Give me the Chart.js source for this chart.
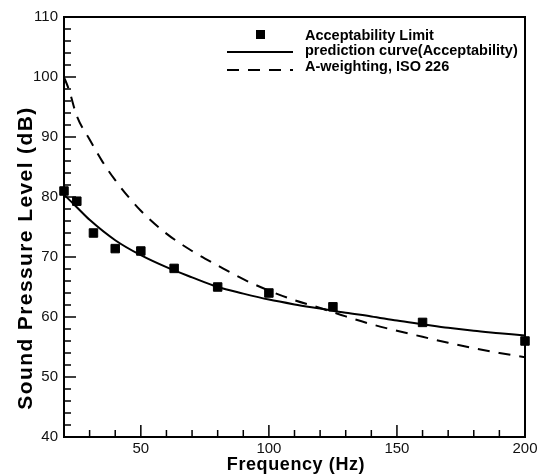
<!DOCTYPE html>
<html>
<head>
<meta charset="utf-8">
<script src="https://cdn.jsdelivr.net/npm/chart.js@4.4.0/dist/chart.umd.min.js"></script>
<style>
  body { margin: 0; background: #fff; }
  canvas { display: block; }
</style>
</head>
<body>
<canvas id="splChart" width="544" height="475"></canvas>
<script>
// measured acceptability limit (squares)
const limitFreq = [20, 25, 31.5, 40, 50, 63, 80, 100, 125, 160, 200];
const limitLevel = [81, 79.3, 74, 71.4, 71, 68.1, 65, 64, 61.7, 59.1, 56];

// prediction curve (solid)
const predFreq = [20, 25, 30, 40, 50, 60, 70, 80, 90, 100, 110, 120, 130, 140, 150, 160, 170, 180, 190, 200];
const predLevel = [80.4, 78.3, 76.2, 72.8, 70.3, 68.3, 66.6, 65.0, 63.9, 62.9, 62.1, 61.4, 60.7, 60.1, 59.4, 58.8, 58.2, 57.7, 57.3, 56.9];

// A-weighting, ISO 226 (dashed)
const aFreq = [20, 22, 25, 30, 35, 40, 45, 50, 60, 70, 80, 90, 100, 110, 120, 130, 140, 150, 160, 170, 180, 190, 200];
const aLevel = [100, 97.8, 93.5, 89.6, 85.9, 82.8, 80.1, 77.7, 73.9, 71.0, 68.6, 66.3, 64.4, 62.8, 61.5, 60.1, 58.8, 57.7, 56.7, 55.7, 54.8, 54.0, 53.3];

const xTicks = [50, 100, 150, 200];
const legendLabels = ['Acceptability Limit', 'prediction curve(Acceptability)', 'A-weighting, ISO 226'];
const xTitle = 'Frequency (Hz)';
const yTitle = 'Sound Pressure Level (dB)';

const FONT = '"Liberation Sans", Arial, sans-serif';
const dashPattern = [12, 9];

function toPoints(xs, ys) {
  return xs.map((x, i) => ({ x: x, y: ys[i] }));
}

// inward ticks, frame, axis titles and legend
const framePlugin = {
  id: 'frame',
  afterDraw(chart) {
    const ctx = chart.ctx;
    const area = chart.chartArea;
    const xs = chart.scales.x;
    const ys = chart.scales.y;
    ctx.save();
    ctx.strokeStyle = '#000';
    ctx.lineWidth = 1.5;
    ctx.beginPath();
    for (let v = 30; v <= 200; v += 10) {
      const px = xs.getPixelForValue(v);
      const len = v % 50 === 0 ? 12 : 7;
      ctx.moveTo(px, area.bottom);
      ctx.lineTo(px, area.bottom - len);
    }
    for (let v = 42; v < 110; v += 2) {
      const py = ys.getPixelForValue(v);
      const len = v % 10 === 0 ? 12 : 7;
      ctx.moveTo(area.left, py);
      ctx.lineTo(area.left + len, py);
    }
    ctx.stroke();

    ctx.lineWidth = 2;
    ctx.strokeRect(area.left, area.top, area.right - area.left, area.bottom - area.top);

    // axis titles
    ctx.fillStyle = '#000';
    ctx.textAlign = 'center';
    ctx.textBaseline = 'alphabetic';
    ctx.font = 'bold 18px ' + FONT;
    ctx.letterSpacing = '0.6px';
    ctx.fillText(xTitle, 296, 470);
    ctx.save();
    ctx.translate(32, 258);
    ctx.rotate(-Math.PI / 2);
    ctx.font = 'bold 21px ' + FONT;
    ctx.letterSpacing = '1.4px';
    ctx.fillText(yTitle, 0, 0);
    ctx.restore();
    ctx.letterSpacing = '0px';

    // legend
    ctx.fillRect(256, 30, 9, 9);
    ctx.beginPath();
    ctx.moveTo(227, 52);
    ctx.lineTo(293, 52);
    ctx.stroke();
    ctx.setLineDash(dashPattern);
    ctx.beginPath();
    ctx.moveTo(227, 70);
    ctx.lineTo(293, 70);
    ctx.stroke();
    ctx.setLineDash([]);

    ctx.font = 'bold 14.5px ' + FONT;
    ctx.textAlign = 'left';
    ctx.fillText(legendLabels[0], 305, 40);
    ctx.fillText(legendLabels[1], 305, 54.5);
    ctx.fillText(legendLabels[2], 305, 71);
    ctx.restore();
  }
};

const ctx = document.getElementById('splChart').getContext('2d');

new Chart(ctx, {
  type: 'scatter',
  data: {
    datasets: [{
      label: legendLabels[0],
      data: toPoints(limitFreq, limitLevel),
      pointStyle: 'rect',
      pointRadius: 6,
      backgroundColor: '#000',
      borderColor: '#000',
      borderWidth: 1,
      clip: false,
      order: 0
    }, {
      label: legendLabels[1],
      type: 'line',
      data: toPoints(predFreq, predLevel),
      borderColor: '#000',
      borderWidth: 2,
      pointRadius: 0,
      cubicInterpolationMode: 'monotone',
      fill: false,
      order: 1
    }, {
      label: legendLabels[2],
      type: 'line',
      data: toPoints(aFreq, aLevel),
      borderColor: '#000',
      borderWidth: 2,
      borderDash: dashPattern,
      pointRadius: 0,
      cubicInterpolationMode: 'monotone',
      fill: false,
      order: 2
    }]
  },
  options: {
    responsive: false,
    animation: false,
    layout: { padding: { left: 0, top: 17, right: 19, bottom: 0 } },
    plugins: {
      legend: { display: false },
      tooltip: { enabled: false }
    },
    scales: {
      x: {
        type: 'linear',
        min: 20,
        max: 200,
        afterBuildTicks: function(scale) {
          scale.ticks = xTicks.map(v => ({ value: v }));
        },
        afterFit: function(scale) { scale.height = 38; },
        grid: { display: false, drawTicks: false },
        border: { display: false },
        ticks: {
          padding: 3,
          color: '#111',
          font: { family: FONT, size: 15 },
          maxRotation: 0
        }
      },
      y: {
        min: 40,
        max: 110,
        afterFit: function(scale) { scale.width = 64; },
        grid: { display: false, drawTicks: false },
        border: { display: false },
        ticks: {
          stepSize: 10,
          padding: 6,
          color: '#111',
          font: { family: FONT, size: 15 }
        }
      }
    }
  },
  plugins: [framePlugin]
});
</script>
</body>
</html>
